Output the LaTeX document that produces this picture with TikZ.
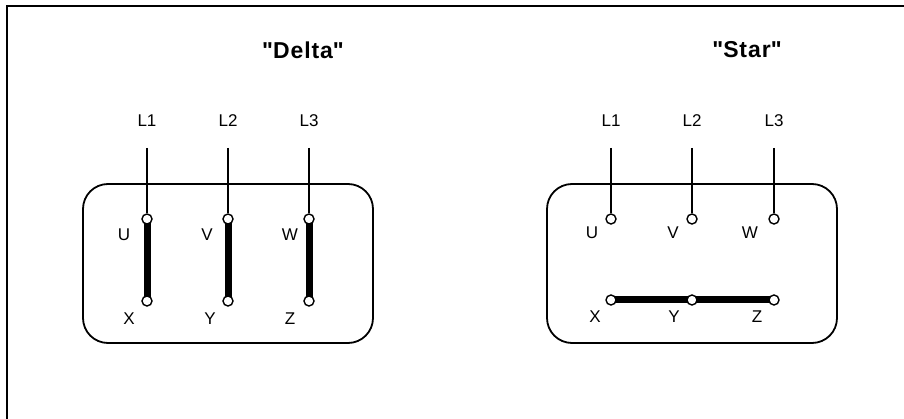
\documentclass[tikz,border=0pt]{standalone}
\usepackage{fontspec}
\setmainfont{Liberation Sans}
\usetikzlibrary{backgrounds}
\tikzset{
  term/.style={circle,draw,fill=white,line width=1.4pt,minimum size=10pt,inner sep=0pt},
  lbl/.style={font=\fontsize{17}{17}\selectfont,inner sep=0pt},
  ttl/.style={font=\fontsize{23}{23}\selectfont\bfseries\addfontfeature{LetterSpace=4},inner sep=0pt},
  lead/.style={line width=1.5pt},
  bar/.style={line width=7pt},
  housing/.style={line width=1.8pt,rounded corners=25pt},
}
\begin{document}
\begin{tikzpicture}[x=1pt,y=-1pt]
\useasboundingbox (0,0) rectangle (904,419);
% outer frame (partly outside the page)
\draw[line width=2.2pt] (7,440) -- (7,6) -- (920,6);

% ---------- Delta ----------
\node[ttl] (tdelta) at (303,50) {\textquotedbl Delta\textquotedbl};
\draw[housing] (83,184) rectangle (373,343);
\node[lbl] (dL1) at (147,121) {L1};
\node[lbl] (dL2) at (228,121) {L2};
\node[lbl] (dL3) at (309,121) {L3};
\coordinate (dt1) at (147,148);
\coordinate (dt2) at (228,148);
\coordinate (dt3) at (309,148);
\node[term] (dU) at (147,219) {};
\node[term] (dV) at (228,219) {};
\node[term] (dW) at (309,219) {};
\node[term] (dX) at (147,301) {};
\node[term] (dY) at (228,301) {};
\node[term] (dZ) at (309,301) {};
\begin{pgfonlayer}{background}
\draw[bar] (dU.center) -- (dX.center);
\draw[bar] (dV.center) -- (dY.center);
\draw[bar] (dW.center) -- (dZ.center);
\end{pgfonlayer}
\draw[lead] (dt1) -- (dU);
\draw[lead] (dt2) -- (dV);
\draw[lead] (dt3) -- (dW);
\node[lbl] (dlU) at (124,235) {U};
\node[lbl] (dlV) at (207,235) {V};
\node[lbl] (dlW) at (290,235) {W};
\node[lbl] (dlX) at (129,319) {X};
\node[lbl] (dlY) at (210,319) {Y};
\node[lbl] (dlZ) at (290,319) {Z};

% ---------- Star ----------
\node[ttl] (tstar) at (747,50) {\textquotedbl Star\textquotedbl};
\draw[housing] (547,184) rectangle (837,343);
\node[lbl] (sL1) at (611,121) {L1};
\node[lbl] (sL2) at (692,121) {L2};
\node[lbl] (sL3) at (774,121) {L3};
\coordinate (st1) at (611,148);
\coordinate (st2) at (692,148);
\coordinate (st3) at (774,148);
\node[term] (sU) at (611,219) {};
\node[term] (sV) at (692,219) {};
\node[term] (sW) at (774,219) {};
\node[term] (sX) at (611,300) {};
\node[term] (sY) at (692,300) {};
\node[term] (sZ) at (774,300) {};
\begin{pgfonlayer}{background}
\draw[bar] (sX.center) -- (sY.center) -- (sZ.center);
\end{pgfonlayer}
\draw[lead] (st1) -- (sU);
\draw[lead] (st2) -- (sV);
\draw[lead] (st3) -- (sW);
\node[lbl] (slU) at (592,233) {U};
\node[lbl] (slV) at (673,233) {V};
\node[lbl] (slW) at (750,233) {W};
\node[lbl] (slX) at (595,317) {X};
\node[lbl] (slY) at (674,317) {Y};
\node[lbl] (slZ) at (757,317) {Z};
\end{tikzpicture}
\end{document}
